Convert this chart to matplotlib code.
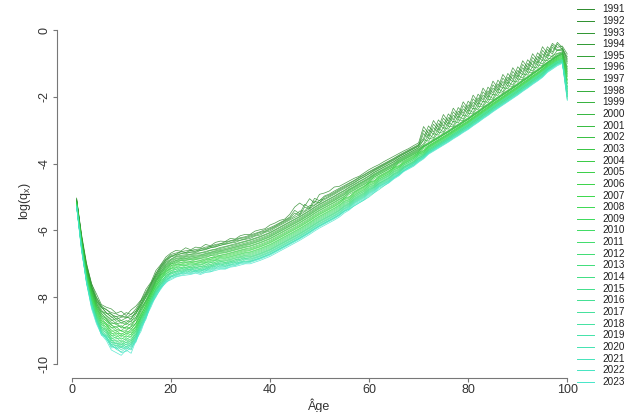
import numpy as np
import matplotlib
matplotlib.use("Agg")
import matplotlib.pyplot as plt
from matplotlib.colors import LinearSegmentedColormap
from matplotlib.lines import Line2D

# -log(qx) x 100, one list per year, ages 1..100
ages = list(range(1, 101))
years = list(range(1991, 2024))

y1991 = [505, 612, 698, 760, 790, 822, 830, 835, 848, 842, 855, 838, 826, 808, 776, 755, 720, 702, 680, 668,
         660, 662, 652, 658, 650, 652, 642, 646, 636, 632, 633, 624, 626, 616, 612, 612, 602, 598, 595, 584,
         578, 570, 566, 552, 530, 518, 528, 505, 518, 492, 488, 482, 470, 468, 460, 452, 444, 438, 428, 418,
         410, 403, 394, 386, 378, 370, 362, 355, 346, 338, 289, 310, 271, 292, 253, 274, 234, 255, 215, 236,
         195, 215, 174, 194, 153, 173, 133, 153, 113, 133, 92, 112, 71, 91, 50, 70, 40, 52, 48, 72]
y1992 = [508, 618, 702, 758, 800, 826, 838, 846, 850, 858, 846, 852, 834, 810, 784, 758, 730, 704, 686, 672,
         668, 664, 661, 660, 657, 655, 650, 648, 642, 640, 634, 631, 627, 622, 619, 614, 609, 604, 598, 592,
         585, 577, 569, 560, 540, 550, 522, 532, 504, 511, 497, 491, 482, 474, 466, 458, 450, 441, 433, 424,
         416, 408, 400, 392, 384, 375, 367, 359, 351, 343, 324, 287, 306, 269, 288, 251, 269, 232, 250, 213,
         230, 192, 209, 171, 188, 150, 168, 130, 148, 110, 127, 89, 106, 68, 85, 50, 66, 37, 52, 90]
y1993 = [503, 622, 708, 765, 806, 832, 836, 852, 858, 855, 862, 850, 842, 812, 790, 762, 728, 708, 688, 676,
         672, 664, 666, 660, 662, 656, 654, 648, 646, 640, 638, 632, 630, 624, 622, 617, 612, 606, 602, 595,
         588, 579, 571, 563, 548, 555, 530, 536, 512, 518, 500, 494, 486, 477, 469, 460, 452, 443, 435, 426,
         418, 410, 402, 394, 386, 377, 369, 361, 353, 345, 300, 318, 282, 300, 264, 282, 245, 263, 226, 244,
         206, 223, 185, 202, 164, 181, 144, 161, 124, 141, 103, 120, 82, 99, 61, 78, 45, 60, 55, 80]
y1994 = [510, 617, 710, 770, 802, 828, 848, 850, 866, 860, 858, 866, 840, 820, 788, 760, 735, 710, 690, 680,
         672, 670, 666, 665, 662, 660, 656, 652, 648, 645, 640, 637, 632, 629, 625, 620, 615, 610, 604, 598,
         590, 582, 574, 566, 556, 542, 542, 526, 524, 510, 505, 497, 489, 480, 472, 464, 456, 447, 439, 430,
         420, 412, 404, 396, 388, 379, 371, 363, 355, 347, 331, 298, 313, 280, 295, 262, 276, 243, 257, 224,
         237, 203, 216, 182, 195, 161, 175, 141, 155, 121, 134, 100, 113, 79, 92, 58, 72, 42, 58, 95]
y1995 = [508, 625, 706, 768, 812, 830, 846, 860, 858, 870, 862, 858, 848, 818, 794, 765, 736, 712, 694, 678,
         676, 670, 670, 665, 666, 660, 658, 652, 650, 644, 642, 638, 636, 630, 627, 624, 617, 614, 606, 602,
         593, 585, 577, 569, 561, 553, 544, 535, 525, 516, 508, 500, 492, 483, 475, 466, 458, 448, 440, 431,
         422, 414, 406, 398, 390, 380, 372, 364, 356, 348, 310, 324, 292, 306, 274, 288, 255, 269, 236, 250,
         216, 229, 195, 208, 174, 187, 154, 167, 134, 147, 113, 126, 92, 105, 71, 84, 52, 62, 58, 85]
y1996 = [512, 622, 715, 768, 815, 842, 848, 858, 872, 870, 876, 864, 846, 826, 796, 768, 740, 716, 696, 686,
         678, 675, 673, 671, 668, 667, 663, 659, 656, 651, 648, 644, 640, 636, 632, 628, 623, 618, 612, 606,
         598, 590, 582, 574, 566, 558, 549, 540, 530, 521, 513, 505, 497, 488, 480, 470, 462, 453, 445, 436,
         426, 418, 410, 402, 394, 384, 376, 368, 360, 352, 341, 312, 323, 294, 305, 276, 286, 257, 267, 238,
         247, 217, 226, 196, 205, 175, 185, 155, 165, 135, 144, 114, 123, 93, 102, 73, 81, 60, 62, 110]
y1997 = [509, 628, 712, 775, 810, 838, 856, 870, 864, 878, 870, 874, 850, 822, 800, 772, 742, 718, 700, 688,
         680, 678, 676, 672, 671, 668, 666, 660, 658, 654, 650, 646, 643, 638, 634, 630, 625, 620, 614, 608,
         600, 592, 584, 576, 568, 560, 551, 542, 532, 523, 515, 507, 499, 490, 482, 472, 464, 455, 447, 438,
         427, 419, 411, 403, 395, 385, 377, 369, 361, 353, 328, 333, 310, 315, 292, 297, 273, 278, 254, 259,
         234, 238, 213, 217, 192, 196, 172, 176, 152, 156, 131, 135, 110, 114, 89, 92, 76, 70, 65, 100]
y1998 = [514, 624, 718, 772, 820, 844, 855, 866, 880, 876, 882, 870, 860, 828, 800, 775, 746, 722, 703, 690,
         684, 681, 678, 676, 674, 673, 669, 665, 661, 657, 654, 650, 646, 642, 638, 634, 629, 624, 618, 612,
         604, 596, 588, 580, 572, 564, 555, 546, 536, 527, 519, 511, 503, 494, 486, 476, 468, 459, 451, 442,
         431, 423, 415, 407, 399, 388, 380, 372, 364, 356, 345, 324, 327, 306, 309, 288, 290, 269, 271, 250,
         251, 229, 230, 208, 209, 187, 189, 167, 169, 147, 148, 126, 127, 105, 106, 86, 84, 72, 68, 120]
y1999 = [512, 630, 716, 780, 818, 850, 862, 875, 882, 890, 878, 884, 860, 834, 808, 778, 748, 724, 705, 694,
         686, 684, 680, 679, 677, 675, 671, 667, 663, 660, 657, 653, 649, 645, 641, 637, 632, 627, 621, 615,
         607, 599, 591, 583, 575, 567, 558, 549, 539, 530, 522, 514, 506, 497, 489, 478, 470, 461, 453, 444,
         433, 425, 417, 409, 401, 390, 382, 374, 366, 358, 346, 337, 328, 319, 310, 301, 291, 282, 272, 263,
         252, 242, 231, 221, 210, 200, 190, 180, 170, 160, 149, 139, 128, 118, 107, 96, 86, 76, 68, 130]
y2000 = [515, 628, 722, 778, 826, 848, 866, 880, 876, 892, 890, 878, 868, 832, 812, 780, 752, 726, 708, 696,
         690, 685, 684, 680, 680, 677, 674, 669, 666, 662, 659, 655, 651, 647, 643, 640, 635, 630, 624, 618,
         610, 602, 594, 586, 578, 570, 561, 552, 542, 533, 525, 517, 509, 500, 492, 480, 472, 463, 455, 446,
         435, 427, 419, 411, 403, 392, 384, 376, 368, 360, 348, 339, 330, 321, 312, 303, 293, 284, 274, 265,
         254, 244, 233, 223, 212, 202, 192, 182, 172, 162, 151, 141, 130, 120, 109, 97, 87, 77, 70, 115]
y2001 = [514, 633, 720, 785, 824, 856, 864, 884, 890, 885, 896, 888, 866, 840, 810, 786, 750, 730, 710, 699,
         691, 688, 685, 684, 681, 680, 676, 672, 668, 664, 662, 658, 654, 650, 646, 642, 637, 632, 626, 620,
         612, 604, 596, 588, 580, 572, 563, 554, 544, 535, 527, 519, 511, 502, 494, 483, 475, 466, 458, 449,
         437, 429, 421, 413, 405, 394, 386, 378, 370, 362, 349, 340, 331, 322, 313, 304, 294, 285, 275, 266,
         255, 245, 234, 224, 213, 203, 193, 183, 173, 163, 152, 142, 131, 121, 110, 98, 88, 78, 72, 140]
y2002 = [517, 632, 726, 782, 832, 856, 872, 882, 896, 900, 888, 896, 876, 838, 818, 784, 756, 730, 712, 702,
         694, 690, 688, 686, 684, 683, 679, 675, 671, 667, 665, 661, 657, 653, 649, 646, 641, 636, 630, 624,
         616, 608, 600, 592, 584, 576, 567, 558, 548, 539, 531, 523, 515, 506, 498, 486, 478, 469, 461, 452,
         440, 432, 424, 416, 408, 396, 388, 380, 372, 364, 351, 342, 333, 324, 315, 306, 296, 287, 277, 268,
         257, 247, 236, 226, 215, 205, 195, 185, 175, 165, 154, 144, 133, 123, 112, 100, 90, 80, 72, 125]
y2003 = [516, 636, 724, 790, 828, 862, 870, 892, 888, 902, 900, 888, 878, 846, 814, 790, 754, 734, 716, 700,
         697, 691, 690, 687, 687, 684, 682, 676, 674, 669, 667, 663, 659, 655, 651, 648, 643, 638, 632, 626,
         618, 610, 602, 594, 586, 578, 569, 560, 550, 541, 533, 525, 517, 508, 500, 488, 480, 471, 463, 454,
         441, 433, 425, 417, 409, 397, 389, 381, 373, 365, 350, 342, 332, 324, 314, 306, 296, 288, 277, 268,
         257, 248, 236, 227, 215, 205, 195, 186, 175, 165, 154, 144, 133, 122, 112, 101, 90, 80, 74, 150]
y2004 = [518, 634, 730, 788, 836, 862, 880, 890, 902, 900, 908, 896, 878, 852, 822, 786, 762, 734, 718, 706,
         698, 696, 692, 692, 688, 689, 685, 682, 677, 674, 671, 667, 663, 659, 655, 652, 647, 642, 636, 630,
         622, 614, 606, 598, 590, 582, 573, 564, 554, 545, 537, 529, 521, 512, 504, 492, 484, 475, 467, 458,
         445, 437, 429, 421, 413, 400, 392, 384, 376, 368, 355, 346, 337, 328, 319, 310, 300, 291, 281, 272,
         261, 251, 240, 230, 219, 209, 199, 189, 179, 169, 158, 148, 137, 127, 116, 103, 93, 83, 76, 160]
y2005 = [519, 640, 728, 796, 834, 870, 878, 902, 900, 912, 902, 906, 884, 850, 826, 794, 760, 740, 720, 706,
         702, 697, 696, 693, 693, 690, 688, 682, 680, 675, 673, 669, 665, 661, 657, 655, 650, 645, 639, 633,
         625, 617, 609, 601, 593, 585, 576, 567, 557, 548, 540, 532, 524, 515, 503, 499, 486, 477, 469, 456,
         451, 439, 431, 423, 411, 406, 394, 386, 378, 367, 360, 347, 338, 329, 320, 311, 301, 292, 282, 273,
         262, 252, 241, 231, 220, 210, 200, 190, 180, 170, 159, 149, 138, 128, 117, 104, 94, 84, 78, 135]
y2006 = [516, 641, 734, 793, 842, 868, 884, 898, 910, 908, 914, 900, 890, 856, 822, 796, 766, 738, 724, 710,
         703, 701, 697, 697, 694, 694, 689, 686, 681, 678, 676, 672, 668, 664, 660, 658, 653, 648, 642, 636,
         628, 620, 612, 604, 596, 588, 579, 570, 560, 551, 543, 535, 527, 518, 506, 501, 488, 479, 471, 458,
         453, 441, 433, 425, 413, 408, 396, 388, 380, 369, 362, 349, 340, 331, 322, 313, 303, 294, 284, 275,
         264, 254, 243, 233, 222, 212, 202, 192, 182, 172, 161, 151, 140, 130, 119, 106, 96, 86, 80, 170]
y2007 = [520, 638, 732, 800, 840, 876, 882, 910, 906, 918, 908, 912, 886, 860, 830, 792, 768, 744, 722, 714,
         705, 702, 701, 697, 698, 695, 693, 687, 685, 680, 679, 675, 671, 667, 663, 660, 655, 650, 644, 638,
         630, 622, 614, 606, 598, 590, 581, 572, 562, 553, 545, 537, 529, 520, 508, 504, 491, 482, 474, 461,
         455, 443, 435, 427, 415, 410, 398, 390, 382, 371, 363, 350, 341, 332, 323, 314, 304, 295, 285, 276,
         265, 255, 244, 234, 223, 213, 203, 193, 183, 173, 162, 152, 141, 131, 120, 107, 97, 87, 82, 150]
y2008 = [522, 644, 738, 798, 848, 874, 892, 906, 918, 914, 920, 910, 896, 858, 834, 800, 766, 748, 726, 714,
         709, 704, 704, 700, 700, 697, 696, 690, 688, 682, 682, 678, 674, 670, 666, 664, 659, 654, 648, 642,
         634, 626, 618, 610, 602, 594, 585, 576, 566, 557, 549, 541, 533, 524, 512, 507, 494, 485, 477, 464,
         458, 446, 438, 430, 418, 412, 400, 392, 384, 372, 366, 352, 343, 334, 325, 316, 306, 297, 287, 278,
         267, 257, 246, 236, 225, 215, 205, 195, 185, 175, 164, 154, 143, 133, 122, 109, 99, 89, 84, 180]
y2009 = [521, 643, 737, 804, 846, 882, 888, 916, 912, 926, 916, 920, 892, 864, 830, 802, 772, 744, 730, 716,
         712, 706, 705, 703, 701, 701, 697, 693, 689, 685, 684, 680, 676, 672, 668, 666, 661, 656, 650, 644,
         636, 628, 620, 612, 604, 596, 587, 578, 568, 559, 551, 543, 535, 526, 514, 509, 496, 487, 479, 466,
         460, 447, 439, 431, 419, 413, 401, 393, 385, 373, 367, 353, 344, 335, 326, 317, 307, 298, 288, 279,
         268, 258, 247, 237, 226, 216, 206, 196, 186, 176, 165, 155, 144, 134, 123, 110, 100, 90, 85, 160]
y2010 = [524, 648, 738, 808, 854, 880, 898, 914, 924, 922, 928, 916, 902, 862, 840, 800, 778, 748, 730, 722,
         712, 712, 706, 708, 702, 704, 698, 697, 690, 689, 687, 683, 679, 675, 671, 669, 664, 659, 653, 647,
         639, 631, 623, 615, 607, 599, 590, 581, 571, 562, 554, 546, 538, 529, 517, 512, 499, 490, 482, 469,
         463, 450, 442, 434, 422, 416, 404, 396, 388, 376, 369, 355, 346, 337, 328, 319, 309, 300, 290, 281,
         270, 260, 249, 239, 228, 218, 208, 198, 188, 178, 167, 157, 146, 136, 125, 112, 102, 92, 86, 190]
y2011 = [522, 646, 744, 806, 856, 890, 896, 924, 920, 934, 922, 930, 898, 870, 836, 810, 774, 754, 736, 720,
         717, 710, 711, 706, 707, 703, 704, 696, 695, 689, 690, 686, 682, 678, 674, 672, 667, 662, 656, 650,
         642, 634, 626, 618, 610, 602, 593, 584, 574, 565, 557, 549, 541, 532, 520, 514, 501, 492, 484, 471,
         465, 452, 444, 436, 424, 418, 405, 397, 389, 377, 371, 357, 348, 339, 330, 321, 311, 302, 292, 283,
         272, 262, 251, 241, 230, 220, 210, 200, 190, 180, 169, 159, 148, 138, 127, 113, 103, 93, 88, 175]
y2012 = [525, 650, 740, 812, 852, 886, 904, 920, 932, 930, 936, 924, 910, 866, 844, 804, 782, 752, 738, 726,
         716, 716, 710, 712, 706, 709, 703, 703, 695, 694, 692, 688, 684, 680, 676, 675, 670, 665, 659, 653,
         645, 637, 629, 621, 613, 605, 596, 587, 577, 568, 560, 552, 544, 535, 523, 517, 504, 495, 487, 474,
         467, 454, 446, 438, 426, 420, 408, 400, 392, 380, 372, 358, 349, 340, 331, 322, 312, 303, 293, 284,
         273, 263, 252, 242, 231, 221, 211, 201, 191, 181, 170, 160, 149, 139, 128, 114, 104, 94, 89, 200]
y2013 = [523, 651, 748, 808, 862, 894, 900, 930, 928, 942, 928, 936, 904, 876, 840, 812, 776, 760, 734, 728,
         722, 714, 716, 710, 712, 708, 709, 701, 700, 693, 696, 690, 688, 682, 679, 678, 673, 668, 662, 656,
         648, 640, 632, 624, 616, 608, 599, 590, 580, 571, 563, 555, 547, 538, 526, 519, 506, 497, 489, 476,
         469, 457, 449, 441, 429, 422, 410, 402, 394, 382, 374, 360, 351, 342, 333, 324, 314, 305, 295, 286,
         275, 265, 254, 244, 233, 223, 213, 203, 193, 183, 172, 162, 151, 141, 130, 116, 106, 96, 90, 185]
y2014 = [526, 648, 750, 816, 858, 892, 910, 926, 940, 936, 942, 930, 916, 872, 848, 806, 786, 756, 744, 726,
         722, 720, 714, 717, 710, 714, 707, 707, 699, 698, 696, 694, 688, 686, 680, 680, 675, 670, 664, 658,
         650, 642, 634, 626, 618, 610, 601, 592, 582, 573, 565, 557, 549, 540, 528, 521, 508, 499, 491, 478,
         471, 459, 451, 443, 431, 424, 411, 403, 395, 383, 375, 361, 352, 343, 334, 325, 315, 306, 296, 287,
         276, 266, 255, 245, 234, 224, 214, 204, 194, 184, 173, 163, 152, 142, 131, 117, 107, 97, 92, 195]
y2015 = [524, 654, 746, 818, 866, 898, 906, 936, 934, 948, 934, 942, 910, 880, 846, 816, 780, 762, 740, 730,
         726, 718, 720, 714, 716, 712, 713, 705, 704, 697, 700, 693, 692, 686, 684, 682, 677, 672, 666, 660,
         652, 644, 636, 628, 620, 612, 603, 594, 584, 575, 567, 559, 551, 542, 530, 523, 510, 501, 493, 480,
         472, 460, 452, 444, 432, 425, 412, 404, 396, 384, 376, 362, 353, 344, 335, 326, 316, 307, 297, 288,
         277, 267, 256, 246, 235, 225, 215, 205, 195, 185, 174, 164, 153, 143, 132, 118, 108, 98, 92, 170]
y2016 = [527, 650, 752, 815, 862, 902, 914, 930, 946, 940, 948, 936, 920, 878, 854, 810, 790, 760, 748, 732,
         724, 724, 716, 720, 714, 718, 710, 711, 702, 703, 700, 698, 692, 691, 684, 685, 680, 675, 669, 663,
         655, 647, 639, 631, 623, 615, 606, 597, 587, 578, 570, 562, 554, 545, 533, 525, 512, 503, 495, 482,
         474, 462, 454, 446, 434, 427, 414, 406, 398, 386, 378, 364, 355, 346, 337, 328, 318, 309, 299, 290,
         279, 269, 258, 248, 237, 227, 217, 207, 197, 187, 176, 166, 155, 145, 134, 119, 109, 99, 94, 200]
y2017 = [526, 656, 748, 822, 870, 898, 918, 942, 938, 952, 940, 948, 914, 886, 850, 820, 784, 768, 742, 736,
         730, 722, 724, 716, 720, 716, 717, 708, 708, 700, 704, 696, 696, 689, 688, 687, 682, 677, 671, 665,
         657, 649, 641, 633, 625, 617, 608, 599, 589, 580, 572, 564, 556, 547, 535, 527, 514, 505, 497, 484,
         476, 464, 456, 448, 436, 428, 415, 407, 399, 387, 379, 365, 356, 347, 338, 329, 319, 310, 300, 291,
         280, 270, 259, 249, 238, 228, 218, 208, 198, 188, 177, 167, 156, 146, 135, 120, 110, 100, 95, 185]
y2018 = [528, 652, 754, 818, 866, 906, 920, 936, 950, 946, 952, 940, 926, 882, 858, 814, 794, 764, 750, 738,
         728, 728, 720, 724, 718, 722, 714, 715, 706, 707, 704, 703, 696, 696, 688, 690, 684, 679, 673, 667,
         659, 651, 643, 635, 627, 619, 610, 601, 591, 582, 574, 566, 558, 549, 537, 529, 516, 507, 499, 486,
         478, 466, 458, 450, 438, 430, 417, 409, 401, 389, 380, 366, 357, 348, 339, 330, 320, 311, 301, 292,
         281, 271, 260, 250, 239, 229, 219, 209, 199, 189, 178, 168, 157, 147, 136, 121, 111, 101, 96, 205]
y2019 = [527, 658, 752, 826, 870, 904, 924, 948, 944, 958, 946, 956, 920, 890, 856, 822, 786, 772, 746, 740,
         734, 726, 728, 720, 724, 720, 722, 712, 713, 704, 708, 700, 701, 693, 693, 692, 687, 682, 676, 670,
         662, 654, 646, 638, 630, 622, 613, 604, 594, 585, 577, 569, 561, 552, 540, 531, 518, 509, 501, 488,
         480, 468, 460, 452, 440, 432, 420, 412, 404, 392, 383, 369, 360, 351, 342, 333, 323, 314, 304, 295,
         284, 274, 263, 253, 242, 232, 222, 212, 202, 192, 181, 171, 160, 150, 139, 123, 113, 103, 97, 190]
y2020 = [528, 654, 758, 820, 868, 910, 916, 944, 954, 950, 956, 944, 930, 886, 862, 820, 796, 770, 754, 740,
         732, 730, 724, 726, 720, 724, 716, 718, 710, 709, 708, 704, 700, 698, 692, 693, 688, 683, 677, 671,
         663, 655, 647, 639, 631, 623, 614, 605, 595, 586, 578, 570, 562, 553, 542, 536, 527, 518, 509, 500,
         488, 478, 467, 456, 444, 432, 422, 411, 400, 389, 378, 367, 357, 346, 336, 325, 314, 304, 293, 283,
         272, 262, 251, 241, 230, 220, 210, 200, 190, 180, 169, 159, 148, 138, 127, 114, 104, 94, 90, 175]
y2021 = [529, 660, 754, 822, 876, 906, 926, 942, 956, 964, 952, 958, 924, 896, 854, 826, 790, 768, 752, 738,
         736, 730, 728, 728, 722, 728, 720, 720, 714, 711, 712, 704, 704, 697, 696, 694, 689, 684, 678, 672,
         664, 656, 648, 640, 632, 624, 615, 606, 596, 587, 579, 571, 563, 554, 542, 533, 520, 511, 503, 490,
         482, 469, 461, 453, 441, 433, 420, 412, 404, 392, 381, 367, 358, 349, 340, 331, 321, 312, 302, 293,
         282, 272, 261, 251, 240, 230, 220, 210, 200, 190, 179, 169, 158, 148, 137, 122, 112, 102, 96, 210]
y2022 = [528, 656, 760, 830, 872, 914, 920, 952, 950, 966, 962, 950, 934, 892, 866, 820, 800, 772, 758, 744,
         738, 734, 730, 730, 726, 728, 724, 724, 716, 714, 714, 708, 705, 700, 698, 696, 691, 686, 680, 674,
         666, 658, 650, 642, 634, 626, 617, 608, 598, 589, 581, 573, 565, 556, 544, 536, 523, 514, 506, 493,
         484, 471, 463, 455, 443, 435, 422, 414, 406, 394, 384, 370, 361, 352, 343, 334, 324, 315, 305, 296,
         285, 275, 264, 254, 243, 233, 223, 213, 203, 193, 182, 172, 161, 151, 140, 125, 115, 105, 98, 195]
y2023 = [530, 662, 756, 834, 880, 912, 930, 958, 966, 974, 958, 968, 928, 902, 860, 830, 796, 776, 754, 748,
         740, 736, 734, 732, 728, 732, 726, 724, 720, 716, 716, 710, 708, 704, 700, 700, 695, 690, 684, 678,
         670, 662, 654, 646, 638, 630, 621, 612, 602, 593, 585, 577, 569, 560, 548, 539, 526, 517, 509, 496,
         487, 474, 466, 458, 446, 437, 424, 416, 408, 396, 386, 372, 363, 354, 345, 336, 326, 317, 307, 298,
         287, 277, 266, 256, 245, 235, 225, 215, 205, 195, 184, 174, 163, 153, 142, 127, 117, 107, 100, 210]

series = [y1991, y1992, y1993, y1994, y1995, y1996, y1997, y1998, y1999, y2000, y2001,
          y2002, y2003, y2004, y2005, y2006, y2007, y2008, y2009, y2010, y2011, y2012,
          y2013, y2014, y2015, y2016, y2017, y2018, y2019, y2020, y2021, y2022, y2023]

plt.rcParams['font.family'] = ['Liberation Sans', 'DejaVu Sans']

W, H = 625, 412
fig = plt.figure(figsize=(W / 100, H / 100), dpi=100)
# plot region in pixels: x 57..587, y 27..378
ax = fig.add_axes([57 / W, 1 - 377.7 / H, (586.9 - 57) / W, (377.7 - 27) / H])

cmap = LinearSegmentedColormap.from_list('yrs', ['#2b8a2b', '#3ad84a', '#45e6c8'])
colors = [cmap(i / (len(years) - 1)) for i in range(len(years))]

for yr, vals, c in zip(years, series, colors):
    ax.plot(ages, -np.array(vals) / 100.0, color=c, lw=0.5, alpha=0.85)

ax.set_xlim(-2.96, 103.96)
ax.set_ylim(-10.41, 0.09)
ax.set_xticks([0, 20, 40, 60, 80, 100])
ax.set_yticks([0, -2, -4, -6, -8, -10])
ax.set_yticklabels(['0', '-2', '-4', '-6', '-8', '-10'])
for s in ['top', 'right']:
    ax.spines[s].set_visible(False)
ax.spines['left'].set_bounds(-10, 0)
ax.spines['bottom'].set_bounds(0, 100)
for s in ['left', 'bottom']:
    ax.spines[s].set_color('#777777')
    ax.spines[s].set_linewidth(0.8)
ax.tick_params(axis='both', colors='#777777', labelcolor='#333333', length=3.2, width=0.8,
               labelsize=9, pad=1.5)
ax.tick_params(axis='y', labelrotation=90)
for t in ax.get_yticklabels():
    t.set_va('center')
ax.set_xlabel('Âge', fontsize=9, color='#333333')
ax.xaxis.set_label_coords(0.4954, -0.058)
ax.set_ylabel(r'log(q$_{\mathregular{x}}$)', fontsize=9, color='#333333')
ax.yaxis.set_label_coords(-0.045, 0.504)
ax.patch.set_alpha(0)

# legend, one row per year on the right side
for i, (yr, c) in enumerate(zip(years, colors)):
    yp = 1 - (9.3 + i * 11.64) / H
    fig.add_artist(Line2D([577 / W, 594 / W], [yp, yp], color=c, lw=0.7,
                          transform=fig.transFigure))
    fig.text(602.5 / W, yp, str(yr), fontsize=7.2, color='#222222', va='center', ha='left')

fig.savefig('out.png', dpi=100)
